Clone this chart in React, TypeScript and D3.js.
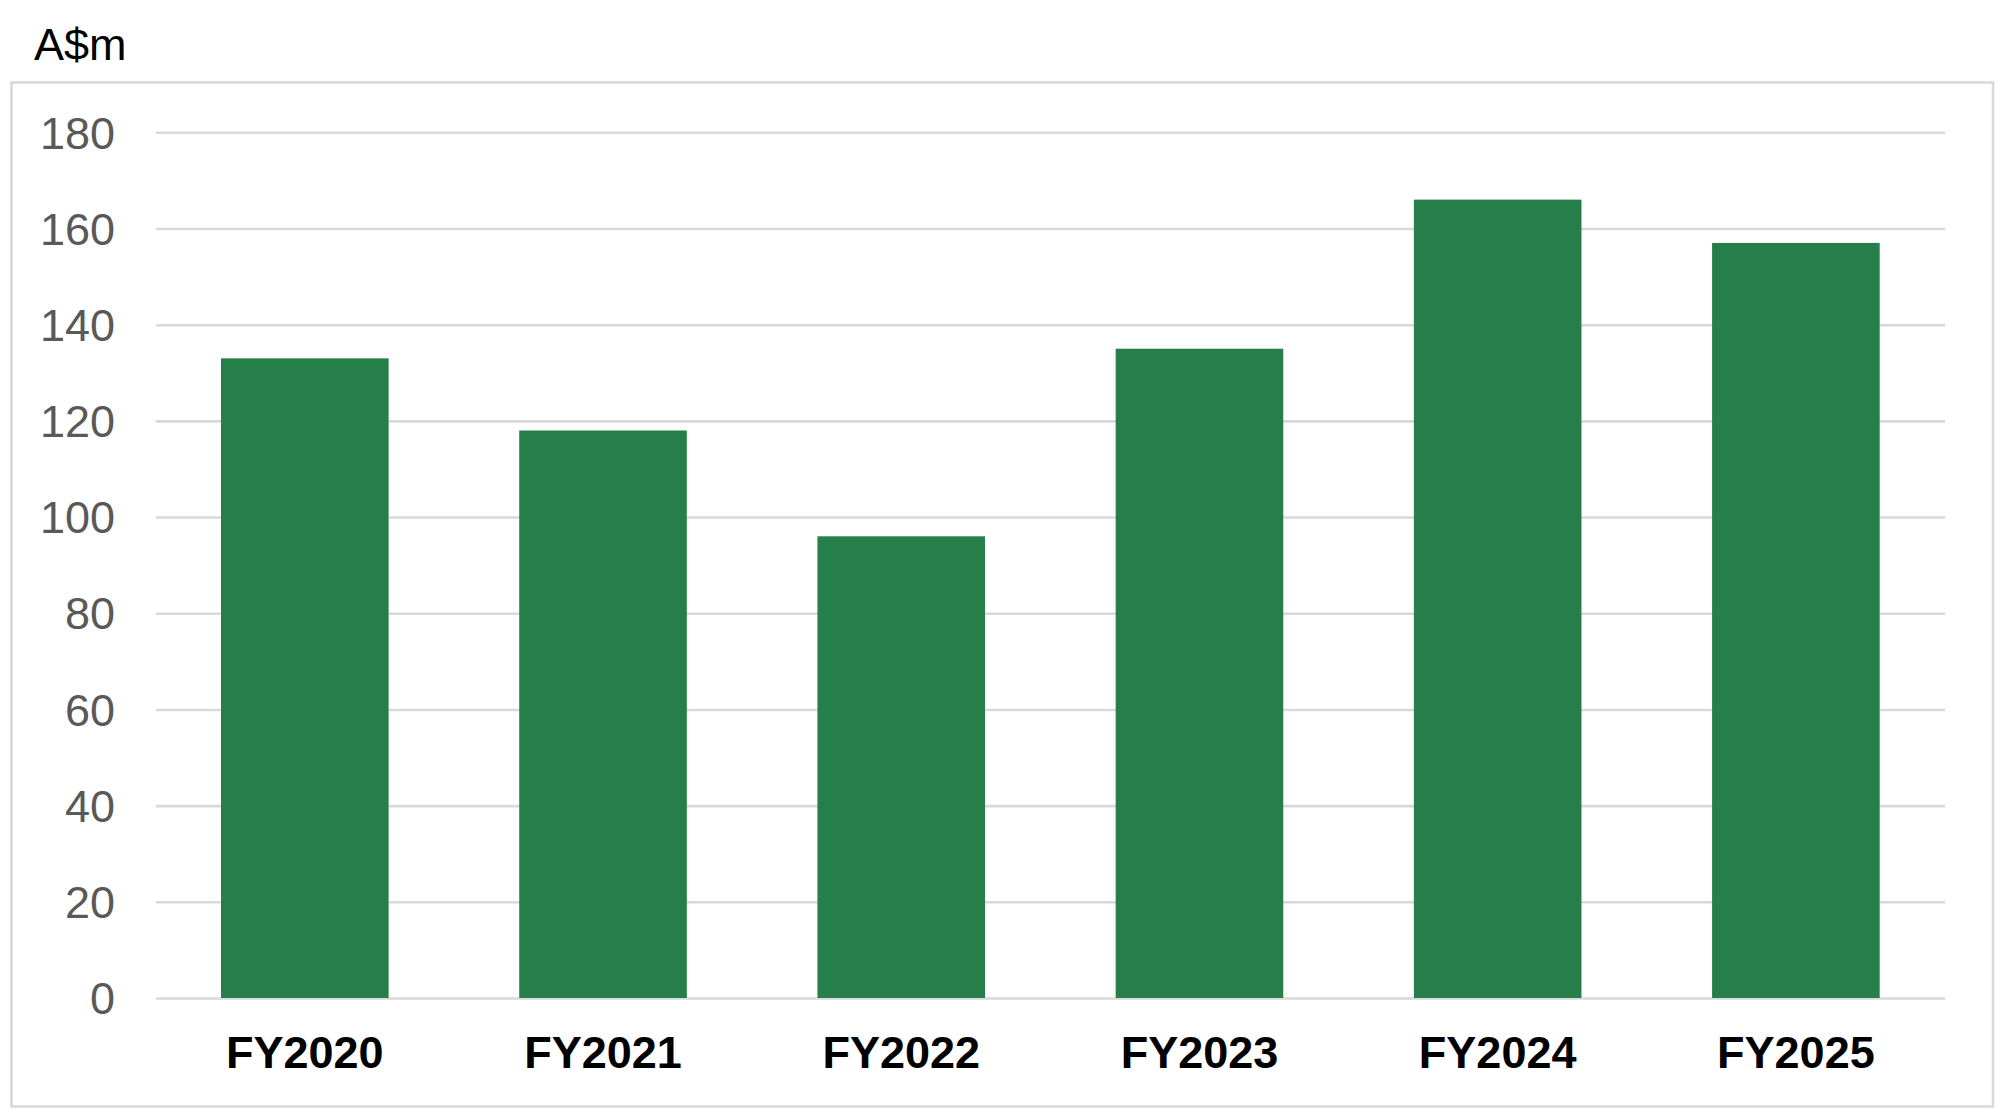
import * as d3 from 'd3';
import React from 'react';

const categories = ['FY2020', 'FY2021', 'FY2022', 'FY2023', 'FY2024', 'FY2025'];
const values = [133, 118, 96, 135, 166, 157];
const yTicks = [0, 20, 40, 60, 80, 100, 120, 140, 160, 180];
const unitLabel = 'A$m';

export default function App() {
  const gRef = React.useRef<SVGGElement>(null);

  const w = 1996;
  const h = 1109;
  const left = 155.7;
  const right = 1945;
  const top = 132.3;
  const bottom = 998;

  const xScale = d3
    .scaleBand<string>()
    .domain(categories)
    .range([left, right])
    .paddingInner(0.438)
    .paddingOuter(0.219);

  const yScale = d3.scaleLinear().domain([0, 180]).range([bottom, top]);

  React.useEffect(() => {
    if (gRef.current == null) {
      return;
    }
    const g = d3.select(gRef.current);
    g.selectAll('*').remove();

    // y axis: labels only, gridlines drawn across the plot
    const yAxis = d3
      .axisLeft(yScale)
      .tickValues(yTicks)
      .tickSize(left - right)
      .tickPadding(40)
      .tickFormat((d) => String(d));
    const ya = g
      .append('g')
      .attr('transform', `translate(${left}, 0)`)
      .call(yAxis);
    ya.select('.domain').remove();
    ya.selectAll('.tick line').attr('stroke', '#d9d9d9').attr('stroke-width', 2.6);
    ya.selectAll('.tick text')
      .attr('fill', '#595959')
      .attr('x', 115 - left)
      .attr('dy', '0.35em')
      .style('font', '45px "Liberation Sans", Arial, sans-serif');

    const xAxis = d3.axisBottom(xScale).tickSize(0).tickPadding(0);
    const xa = g
      .append('g')
      .attr('transform', `translate(0, ${bottom})`)
      .call(xAxis);
    xa.select('.domain').remove();
    xa.selectAll('.tick text')
      .attr('fill', '#000000')
      .attr('y', 70)
      .attr('dy', 0)
      .style('font', 'bold 45px "Liberation Sans", Arial, sans-serif');
  }, []);

  const bars = [];
  for (let i = 0; i < categories.length; i++) {
    const x = xScale(categories[i]) ?? 0;
    bars.push(
      <rect
        key={categories[i]}
        x={x}
        y={yScale(values[i])}
        width={xScale.bandwidth()}
        height={bottom - yScale(values[i])}
        fill='#267e48'
      />
    );
  }

  return (
    <svg
      width={w}
      height={h}
      style={{ position: 'absolute', left: 0, top: 0, backgroundColor: 'white' }}>
      <rect x={11.5} y={82.5} width={1981.5} height={1024} fill='none' stroke='#d9d9d9' strokeWidth={2.6} />
      <text
        x={34}
        y={60}
        fill='#000000'
        style={{ font: '45px "Liberation Sans", Arial, sans-serif' }}>
        {unitLabel}
      </text>
      <g ref={gRef}></g>
      {bars}
    </svg>
  );
}
